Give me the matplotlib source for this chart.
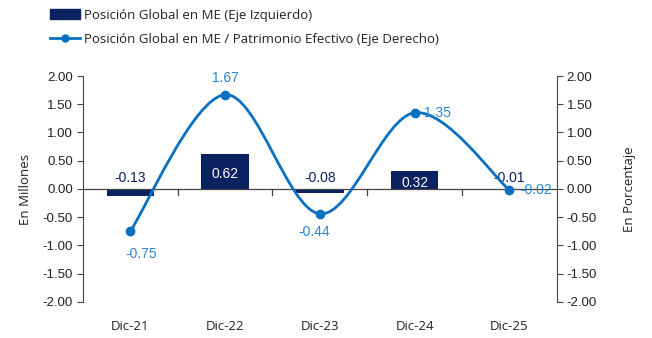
import matplotlib
matplotlib.use("Agg")
import matplotlib.pyplot as plt
from matplotlib.path import Path
from matplotlib.patches import PathPatch
from matplotlib.lines import Line2D
from matplotlib.patches import Patch
import numpy as np

categories = ["Dic-21", "Dic-22", "Dic-23", "Dic-24", "Dic-25"]
posicion_me = [-0.13, 0.62, -0.08, 0.32, -0.01]
ratio_pe = [-0.75, 1.67, -0.44, 1.35, -0.02]
yticks = [-2.0, -1.5, -1.0, -0.5, 0.0, 0.5, 1.0, 1.5, 2.0]

BAR = "#0B2160"
LINE = "#0A70C2"
LBL = "#2A86D4"
TXT = "#222222"
NUMF = "Liberation Sans"
CATF = "Open Sans"

fig = plt.figure(figsize=(6.52, 3.38), dpi=100)
ax = fig.add_axes([0.127, 0.107, 0.727, 0.668])
ax2 = ax.twinx()

x = np.arange(len(categories))
ax.bar(x, posicion_me, width=0.5, color=BAR, zorder=2)
ax.set_xlim(-0.5, len(categories) - 0.5)
ax.set_ylim(-2, 2)
ax2.set_ylim(-2, 2)

for a in (ax, ax2):
    a.set_yticks(yticks)
    a.set_yticklabels([f"{v:.2f}" for v in yticks], fontfamily=NUMF, fontsize=9.5, color=TXT)
    a.tick_params(axis="y", length=4, width=0.8, color="#444444", pad=3)
    for s in ("top", "bottom"):
        a.spines[s].set_visible(False)
ax.spines["right"].set_visible(False)
ax.spines["left"].set_color("#444444")
ax2.spines["left"].set_visible(False)
ax2.spines["right"].set_color("#444444")

# zero line with category-boundary ticks
ax.axhline(0, color="#444444", lw=0.9, zorder=3)
for b in np.arange(0.5, len(categories) - 0.5, 1.0):
    ax.plot([b, b], [0, -0.1], color="#444444", lw=0.9, zorder=3, clip_on=False)
ax.set_xticks(x)
ax.set_xticklabels(categories, fontfamily=CATF, fontsize=9.5, color=TXT)
ax.tick_params(axis="x", length=0, pad=13)

ax.set_ylabel("En Millones", fontfamily=CATF, fontsize=9.5, color=TXT, labelpad=8)
ax2.set_ylabel("En Porcentaje", fontfamily=CATF, fontsize=9.5, color=TXT, labelpad=19)

# bar labels
for xi, v in zip(x, posicion_me):
    if v >= 0:
        ax.text(xi, v / 2 - 0.05, f"{v:.2f}", ha="center", va="center",
                fontfamily=NUMF, fontsize=10, color="white", zorder=4)
    else:
        ax.annotate(f"{v:.2f}", (xi, 0), xytext=(0, 3), textcoords="offset points",
                    ha="center", va="bottom", fontfamily=NUMF, fontsize=10, color=BAR, zorder=4)

# smooth line (Bezier, Catmull-Rom style as in spreadsheet smoothing)
pts = np.column_stack([x, ratio_pe]).astype(float)
n = len(pts)
verts = [tuple(pts[0])]
codes = [Path.MOVETO]
for i in range(n - 1):
    p0 = pts[i - 1] if i > 0 else pts[i]
    p1 = pts[i]
    p2 = pts[i + 1]
    p3 = pts[i + 2] if i + 2 < n else pts[i + 1]
    c1 = p1 + (p2 - p0) / 6.0
    c2 = p2 - (p3 - p1) / 6.0
    verts += [tuple(c1), tuple(c2), tuple(p2)]
    codes += [Path.CURVE4] * 3
ax2.add_patch(PathPatch(Path(verts, codes), fill=False, edgecolor=LINE, lw=2.0, zorder=5))
ax2.plot(x, ratio_pe, "o", color=LINE, ms=6, zorder=6)

offsets = [(8, -11, "center", "top"), (0, 7, "center", "bottom"), (-4, -8, "center", "top"),
           (7, 0, "left", "center"), (8, 0, "left", "center")]
for xi, v, (dx, dy, ha, va) in zip(x, ratio_pe, offsets):
    ax2.annotate(f"{v:.2f}", (xi, v), xytext=(dx, dy), textcoords="offset points",
                 ha=ha, va=va, fontfamily=NUMF, fontsize=10, color=LBL, zorder=7)

handles = [Patch(facecolor=BAR, edgecolor=BAR),
           Line2D([0], [0], color=LINE, lw=2, marker="o", ms=5)]
labels = ["Posición Global en ME (Eje Izquierdo)",
          "Posición Global en ME / Patrimonio Efectivo (Eje Derecho)"]
leg = fig.legend(handles, labels, loc="upper left", bbox_to_anchor=(0.068, 0.99),
                 frameon=False, prop={"family": CATF, "size": 9.5}, handlelength=2.3,
                 handletextpad=0.3, labelspacing=0.85, borderaxespad=0)
for t in leg.get_texts():
    t.set_color(TXT)

fig.savefig("out.png", dpi=100)
